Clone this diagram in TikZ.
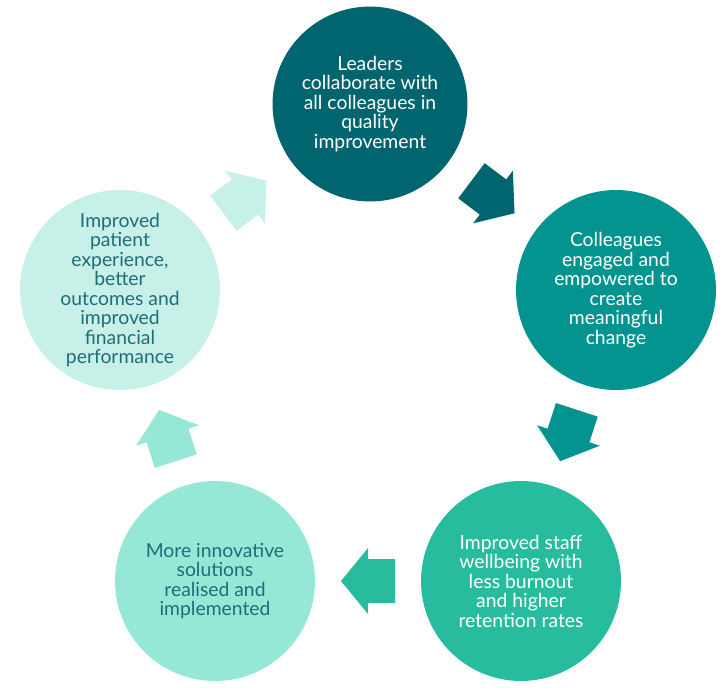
\documentclass[tikz,border=0pt]{standalone}
\usepackage{fontspec}
\setmainfont{Lato}
\usetikzlibrary{calc}
\definecolor{cycA}{HTML}{00656F}
\definecolor{cycB}{HTML}{04948F}
\definecolor{cycC}{HTML}{27BC9D}
\definecolor{cycD}{HTML}{95E8D6}
\definecolor{cycE}{HTML}{C7F0E8}
\definecolor{txtdark}{HTML}{1E6E78}

\begin{document}
\begin{tikzpicture}[x=0.02cm,y=-0.02cm,
  stage/.style={circle,minimum size=4cm,inner sep=0pt,align=center,
    font=\fontsize{11}{11.1}\selectfont}]
\useasboundingbox (0,0) rectangle (724,687);
% the five stages of the cycle
\node[stage,fill=cycA,text=white,minimum size=3.9cm] (lead) at (370,104)
  {Leaders\\collaborate with\\all colleagues in\\quality\\improvement};
\node[stage,fill=cycB,text=white] (engage) at (616,290)
  {Colleagues\\engaged and\\empowered to\\create\\meaningful\\change};
\node[stage,fill=cycC,text=white] (staff) at (521,581)
  {Improved staff\\wellbeing with\\less burnout\\and higher\\retention rates};
\node[stage,fill=cycD,text=txtdark] (innov) at (215,581)
  {More innovative\\solutions\\realised and\\implemented};
\node[stage,fill=cycE,text=txtdark] (patient) at (120,290)
  {Improved\\patient\\experience,\\better\\outcomes and\\improved\\financial\\performance};
% block arrows between the stages
\foreach \a/\b/\ang/\col in {lead/engage/-37/cycA, engage/staff/-108/cycB,
    staff/innov/180/cycC, innov/patient/108/cycD, patient/lead/37/cycE}{
  \fill[\col,shift={($(\a)!0.5!(\b)$)},rotate=\ang]
    (-27,-22) -- (0,-22) -- (0,-33) -- (27,0) -- (0,33) -- (0,22) -- (-27,22) -- cycle;
}
\end{tikzpicture}
\end{document}
